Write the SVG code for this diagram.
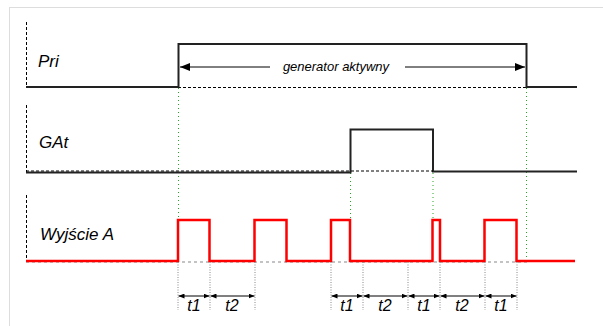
<svg xmlns="http://www.w3.org/2000/svg" width="603" height="326" viewBox="0 0 603 326">
<defs>
<marker id="ah" markerWidth="10" markerHeight="8" refX="10" refY="4" orient="auto" markerUnits="userSpaceOnUse"><path d="M0,0 L10,4 L0,8 z" fill="#000"/></marker>
<marker id="sh" markerWidth="6" markerHeight="5" refX="6" refY="2.5" orient="auto" markerUnits="userSpaceOnUse"><path d="M0,0 L6,2.5 L0,5 z" fill="#000"/></marker>
<style>
.lbl{font-family:"Liberation Sans",Arial,sans-serif;font-style:italic;fill:#000}
.sig{fill:none;stroke:#222;stroke-width:2}
.red{fill:none;stroke:#f00;stroke-width:2.5}
.dash{fill:none;stroke:#000;stroke-width:1;stroke-dasharray:3,2}
.gdash{fill:none;stroke:#888;stroke-width:1.2;stroke-dasharray:3,3}
.green{fill:none;stroke:#2a2;stroke-width:1;stroke-dasharray:1,3}
.tick{fill:none;stroke:#888;stroke-width:1;stroke-dasharray:1,1.5}
.dim{fill:none;stroke:#000;stroke-width:1}
</style>
</defs>
<rect x="9.5" y="7.5" width="620" height="340" fill="#fff" stroke="#bbb" stroke-width="1" stroke-dasharray="1,1"/>

<g id="connectors">
<line class="green" x1="178.5" y1="88" x2="178.5" y2="218"/>
<line class="green" x1="350.5" y1="173" x2="350.5" y2="218"/>
<line class="green" x1="433" y1="173" x2="433" y2="218"/>
<line class="green" x1="526.5" y1="88" x2="526.5" y2="258"/>
<line class="dim" x1="270" y1="67" x2="180" y2="67" marker-end="url(#ah)"/>
<line class="dim" x1="405" y1="67" x2="525" y2="67" marker-end="url(#ah)"/>
</g>

<g id="pri">
<line class="dash" x1="26.5" y1="22" x2="26.5" y2="87"/>
<text class="lbl" x="38" y="67" font-size="17">Pri</text>
<line class="dash" x1="178" y1="87.5" x2="527" y2="87.5"/>
<path class="sig" d="M26,87 H178.5 V44 H526.5 V87 H577" />
<text class="lbl" x="336" y="71" font-size="13" text-anchor="middle">generator aktywny</text>
</g>

<g id="gat">
<line class="dash" x1="26.5" y1="105" x2="26.5" y2="172"/>
<text class="lbl" x="39" y="148" font-size="17">GAt</text>
<path class="sig" d="M26,172.5 H350.5 V129.5 H433 V171.5 H577"/>
<line class="dash" x1="26" y1="171" x2="433" y2="171" stroke="#666"/>
</g>

<g id="wyjscie">
<line class="dash" x1="26.5" y1="195" x2="26.5" y2="261"/>
<text class="lbl" x="40" y="240" font-size="17">Wyjście A</text>
<line class="gdash" x1="26" y1="262" x2="527" y2="262"/>
<path class="red" d="M26,261 H178 V220 H209.5 V261 H254.5 V220 H286.5 V261 H331 V220 H350 V261 H432.5 V220 H440 V261 H484.5 V220 H516.5 V261 H575"/>
</g>

<g id="timing">
<g class="tick">
<line x1="178" y1="262" x2="178" y2="310"/>
<line x1="210" y1="262" x2="210" y2="310"/>
<line x1="255" y1="262" x2="255" y2="310"/>
<line x1="331" y1="262" x2="331" y2="310"/>
<line x1="363" y1="262" x2="363" y2="310"/>
<line x1="408" y1="262" x2="408" y2="310"/>
<line x1="440" y1="262" x2="440" y2="310"/>
<line x1="485" y1="262" x2="485" y2="310"/>
<line x1="517" y1="262" x2="517" y2="310"/>
</g>
<g class="dim">
<line x1="194" y1="296" x2="178.5" y2="296" marker-end="url(#sh)"/>
<line x1="194" y1="296" x2="209.5" y2="296" marker-end="url(#sh)"/>
<line x1="232" y1="296" x2="210.5" y2="296" marker-end="url(#sh)"/>
<line x1="232" y1="296" x2="254.5" y2="296" marker-end="url(#sh)"/>
<line x1="347" y1="296" x2="331.5" y2="296" marker-end="url(#sh)"/>
<line x1="347" y1="296" x2="362.5" y2="296" marker-end="url(#sh)"/>
<line x1="385" y1="296" x2="363.5" y2="296" marker-end="url(#sh)"/>
<line x1="385" y1="296" x2="407.5" y2="296" marker-end="url(#sh)"/>
<line x1="424" y1="296" x2="408.5" y2="296" marker-end="url(#sh)"/>
<line x1="424" y1="296" x2="439.5" y2="296" marker-end="url(#sh)"/>
<line x1="462" y1="296" x2="440.5" y2="296" marker-end="url(#sh)"/>
<line x1="462" y1="296" x2="484.5" y2="296" marker-end="url(#sh)"/>
<line x1="501" y1="296" x2="485.5" y2="296" marker-end="url(#sh)"/>
<line x1="501" y1="296" x2="516.5" y2="296" marker-end="url(#sh)"/>
</g>
<g class="lbl" font-size="16" text-anchor="middle">
<text x="194" y="311">t1</text>
<text x="232" y="311">t2</text>
<text x="347" y="311">t1</text>
<text x="385" y="311">t2</text>
<text x="424" y="311">t1</text>
<text x="462" y="311">t2</text>
<text x="501" y="311">t1</text>
</g>
</g>
</svg>
